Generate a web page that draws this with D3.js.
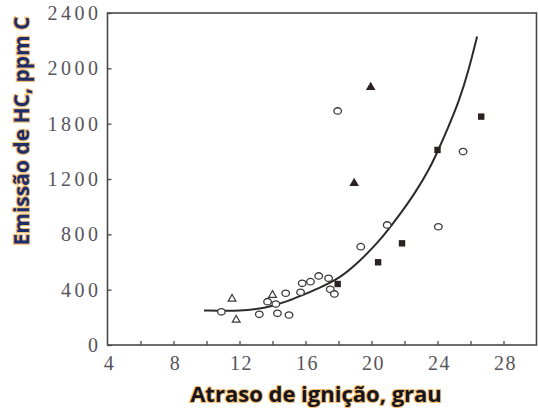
<!DOCTYPE html>
<html>
<head>
<meta charset="utf-8">
<script src="https://cdn.jsdelivr.net/npm/d3@7"></script>
<style>
  body { margin: 0; background: #fff; }
  svg { display: block; }
</style>
</head>
<body>
<div id="chart"></div>
<script>
// valores: [atraso de ignição (grau), emissão HC (ppm C)]
const openCircles = [
  [10.9, 240], [13.2, 222], [14.3, 229], [15.0, 217], [13.7, 313], [14.2, 296],
  [14.8, 374], [15.7, 381], [15.8, 446], [16.3, 458], [16.8, 499], [17.4, 482],
  [17.5, 403], [17.75, 369], [17.95, 1692], [19.35, 711], [20.95, 868],
  [24.05, 855], [25.55, 1398]
];
const openTriangles = [[11.55, 333], [11.8, 181], [14.0, 361]];
const filledTriangles = [[19.95, 1863], [18.95, 1169]];
const filledSquares = [[26.65, 1651], [24.0, 1410], [21.85, 735], [20.4, 598], [17.95, 441]];
const fitCurve = [
  [9.85, 250], [11, 248], [12, 248], [13, 258], [14, 282], [15, 320], [15.6, 350],
  [16.8, 410], [18.05, 480], [19.25, 600], [20.45, 750], [21.05, 840], [21.85, 964],
  [22.7, 1110], [23.5, 1270], [24.05, 1410], [24.6, 1560], [25.3, 1760],
  [25.9, 1990], [26.4, 2230]
];
const xTicks = [6, 8, 10, 12, 14, 16, 18, 20, 22, 24, 26, 28];
const xTickLabels = [4, 8, 12, 16, 20, 24, 28];
const yTicks = [0, 400, 800, 1200, 1600, 2000, 2400];
const yTickLabels = ["0", "400", "800", "1200", "1800", "2000", "2400"];

const width = 538, height = 409;

const x = d3.scaleLinear().domain([4, 30]).range([107.5, 536.5]);
const y = d3.scaleLinear().domain([0, 2400]).range([345, 13]);

const svg = d3.select("#chart")
  .append("svg")
  .attr("width", width)
  .attr("height", height);

// moldura
svg.append("rect")
  .attr("x", x(4))
  .attr("y", y(2400))
  .attr("width", x(30) - x(4))
  .attr("height", y(0) - y(2400))
  .attr("fill", "none")
  .attr("stroke", "#4a4a4a")
  .attr("stroke-width", 1.6);

// eixo x: traços para dentro
const xAxis = svg.append("g")
  .attr("transform", `translate(0,${y(0)})`)
  .call(d3.axisBottom(x).tickValues(xTicks).tickSizeInner(-4).tickSizeOuter(0).tickFormat(() => ""));
xAxis.select(".domain").remove();
xAxis.selectAll("line").attr("stroke", "#4a4a4a").attr("stroke-width", 1.3);

svg.append("g")
  .attr("font-family", "'Liberation Serif', 'DejaVu Serif', serif")
  .attr("font-size", 20)
  .attr("fill", "#57545c")
  .attr("text-anchor", "middle")
  .selectAll("text")
  .data(xTickLabels)
  .join("text")
  .attr("x", d => x(d) + 2)
  .attr("y", 370)
  .attr("letter-spacing", 1.5)
  .text(d => d);

// eixo y
const yAxis = svg.append("g")
  .attr("transform", `translate(${x(4)},0)`)
  .call(d3.axisLeft(y).tickValues(yTicks).tickSizeInner(-4).tickSizeOuter(0)
    .tickPadding(6).tickFormat((d, i) => yTickLabels[i]));
yAxis.select(".domain").remove();
yAxis.selectAll("line").attr("stroke", "#4a4a4a").attr("stroke-width", 1.3);
yAxis.selectAll("text")
  .attr("font-family", "'Liberation Serif', 'DejaVu Serif', serif")
  .attr("font-size", 20)
  .attr("fill", "#57545c")
  .attr("letter-spacing", 3.5);

// curva ajustada
svg.append("path")
  .datum(fitCurve)
  .attr("fill", "none")
  .attr("stroke", "#2e2a2a")
  .attr("stroke-width", 2)
  .attr("d", d3.line().x(d => x(d[0])).y(d => y(d[1])).curve(d3.curveBasis));

// pontos
svg.append("g")
  .selectAll("ellipse")
  .data(openCircles)
  .join("ellipse")
  .attr("cx", d => x(d[0]))
  .attr("cy", d => y(d[1]))
  .attr("rx", 3.8)
  .attr("ry", 3.2)
  .attr("fill", "#fff")
  .attr("stroke", "#3a3a3a")
  .attr("stroke-width", 1.3);

const tri = d3.symbol().type(d3.symbolTriangle);

svg.append("g")
  .selectAll("path")
  .data(openTriangles)
  .join("path")
  .attr("transform", d => `translate(${x(d[0])},${y(d[1])})`)
  .attr("d", tri.size(26)())
  .attr("fill", "#fff")
  .attr("stroke", "#3a3a3a")
  .attr("stroke-width", 1.2);

svg.append("g")
  .selectAll("path")
  .data(filledTriangles)
  .join("path")
  .attr("transform", d => `translate(${x(d[0])},${y(d[1])})`)
  .attr("d", tri.size(40)())
  .attr("fill", "#2a2222");

svg.append("g")
  .selectAll("rect")
  .data(filledSquares)
  .join("rect")
  .attr("x", d => x(d[0]) - 3.2)
  .attr("y", d => y(d[1]) - 3.2)
  .attr("width", 6.4)
  .attr("height", 6.4)
  .attr("fill", "#2a2222");

// títulos dos eixos
svg.append("text")
  .attr("transform", "translate(29,131) rotate(-90)")
  .attr("text-anchor", "middle")
  .attr("font-family", "'Open Sans', sans-serif")
  .attr("font-weight", "bold")
  .attr("font-size", 21)
  .attr("fill", "#1b2d6b")
  .attr("stroke", "#f3a332")
  .attr("stroke-width", 2.2)
  .attr("stroke-opacity", 0.7)
  .attr("paint-order", "stroke")
  .text("Emissão de HC, ppm C");

svg.append("text")
  .attr("x", 316)
  .attr("y", 402)
  .attr("text-anchor", "middle")
  .attr("font-family", "'Open Sans', sans-serif")
  .attr("font-weight", "bold")
  .attr("font-size", 22)
  .attr("fill", "#15151f")
  .attr("stroke", "#f3a332")
  .attr("stroke-width", 2.2)
  .attr("stroke-opacity", 0.7)
  .attr("paint-order", "stroke")
  .text("Atraso de ignição, grau");
</script>
</body>
</html>
